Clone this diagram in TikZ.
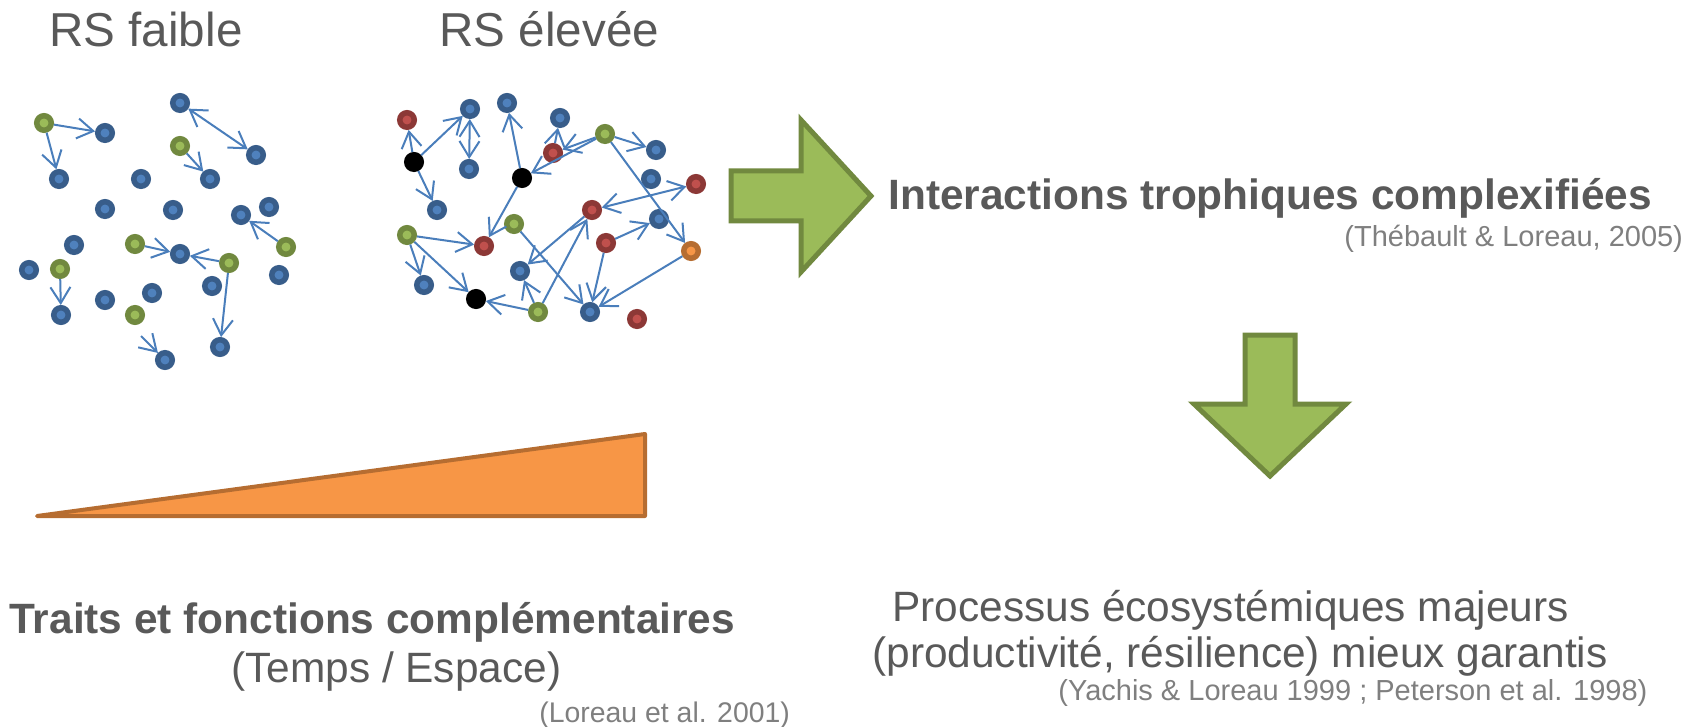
\documentclass[tikz,border=0pt]{standalone}
\usepackage{fontspec}
\setmainfont{Liberation Sans}
\usetikzlibrary{arrows.meta}

\begin{document}
\begin{tikzpicture}[x=0.5pt, y=-0.5pt]
    % Define colours
    \definecolor{textColour}{HTML}{595959}
    \definecolor{citeColour}{HTML}{7F7F7F}
    \definecolor{linkColour}{HTML}{4A7EBB}
    \definecolor{blueFill}{HTML}{4F81BD}
    \definecolor{blueBorder}{HTML}{385D8A}
    \definecolor{greenFill}{HTML}{9BBB59}
    \definecolor{greenBorder}{HTML}{71893F}
    \definecolor{redFill}{HTML}{C0504D}
    \definecolor{redBorder}{HTML}{8C3836}
    \definecolor{orangeFill}{HTML}{F79646}
    \definecolor{orangeBorder}{HTML}{B66D31}

    % Define styles
    \tikzset{
        species/.style={circle, inner sep=0pt, minimum size=7.25pt, line width=2.75pt},
        blueSp/.style={species, fill=blueFill, draw=blueBorder},
        greenSp/.style={species, fill=greenFill, draw=greenBorder},
        redSp/.style={species, fill=redFill, draw=redBorder},
        orangeSp/.style={species, fill=orangeFill, draw=orangeBorder},
        blackSp/.style={species, fill=black, draw=black},
        link/.style={draw=linkColour, line width=1pt, >={Straight Barb[length=8pt, width=10pt]}},
        bigArrow/.style={fill=greenFill, draw=greenBorder, line width=2.5pt},
        label/.style={inner sep=0pt, text=textColour, font=\fontsize{21.2}{25}\selectfont},
        title/.style={inner sep=0pt, text=textColour, font=\fontsize{23.8}{28}\selectfont},
        cite/.style={inner sep=0pt, text=citeColour, font=\fontsize{14.5}{17}\selectfont}
    }

    % Fix the picture size
    \useasboundingbox (0,0) rectangle (1702,727);

    % Titles
    \node[title, anchor=base west] (titleLow) at (49,47) {RS faible};
    \node[title, anchor=base west] (titleHigh) at (439,47) {RS élevée};

    % Draw the low richness network
    \foreach \name/\x/\y/\kind in {
        f1/44/123/greenSp, f2/105/133/blueSp, f3/59/179/blueSp, f4/180/103/blueSp,
        f5/180/146/greenSp, f6/256/155/blueSp, f7/141/179/blueSp, f8/210/179/blueSp,
        f9/105/209/blueSp, f10/173/210/blueSp, f11/241/215/blueSp, f12/269/207/blueSp,
        f13/286/247/greenSp, f14/74/245/blueSp, f15/135/244/greenSp, f16/180/254/blueSp,
        f17/229/263/greenSp, f18/29/270/blueSp, f19/60/269/greenSp, f20/279/275/blueSp,
        f21/212/286/blueSp, f22/152/293/blueSp, f23/105/300/blueSp, f24/61/315/blueSp,
        f25/135/315/greenSp, f26/220/347/blueSp, f27/165/360/blueSp}
        \node[\kind] (\name) at (\x,\y) {};
    \coordinate (fStart) at (141,336);

    \foreach \a/\b in {f1/f2, f1/f3, f5/f8, f13/f11, f15/f16, f17/f16, f17/f26, f19/f24, fStart/f27}
        \draw[link, ->] (\a) -- (\b);
    \draw[link, <->] (f4) -- (f6);

    % Draw the high richness network
    \foreach \name/\x/\y/\kind in {
        e1/407/120/redSp, e2/414/162/blackSp, e3/470/109/blueSp, e4/469/169/blueSp,
        e5/507/103/blueSp, e6/522/178/blackSp, e7/560/118/blueSp, e8/553/153/redSp,
        e9/605/134/greenSp, e10/656/150/blueSp, e11/651/179/blueSp, e12/696/184/redSp,
        e13/437/210/blueSp, e14/592/210/redSp, e15/407/235/greenSp, e16/484/246/redSp,
        e17/514/224/greenSp, e18/659/219/blueSp, e19/606/243/redSp, e20/691/251/orangeSp,
        e21/520/271/blueSp, e22/424/285/blueSp, e23/476/299/blackSp, e24/538/312/greenSp,
        e25/590/312/blueSp, e26/637/319/redSp}
        \node[\kind] (\name) at (\x,\y) {};

    \foreach \a/\b in {e2/e1, e2/e3, e2/e13, e6/e5, e8/e7, e9/e8, e9/e6, e9/e10, e9/e20,
        e6/e16, e15/e16, e15/e22, e15/e23, e24/e23, e24/e21, e24/e14, e14/e21,
        e19/e18, e19/e25, e20/e25, e17/e25}
        \draw[link, ->] (\a) -- (\b);
    \draw[link, <->] (e3) -- (e4);
    \draw[link, <->] (e12) -- (e14);

    % Draw the big arrows
    \draw[bigArrow] (731,171) -- (801,171) -- (801,120) -- (871,196) -- (801,272) -- (801,221) -- (731,221) -- cycle;
    \draw[bigArrow] (1245,335) -- (1295,335) -- (1295,404) -- (1346,404) -- (1270,476) -- (1194,404) -- (1245,404) -- cycle;

    % Draw the wedge
    \draw[fill=orangeFill, draw=orangeBorder, line width=2pt, line join=round] (37,516) -- (645,516) -- (645,434) -- cycle;

    % Texts
    \node[label, anchor=base west, font=\fontsize{21.2}{25}\selectfont\bfseries] (interText) at (888,210) {Interactions trophiques complexifiées};
    \node[cite, anchor=base west] (interCite) at (1344,247) {(Thébault \& Loreau, 2005)};

    \node[label, anchor=base west, font=\fontsize{21.2}{25}\selectfont\bfseries] (traitText) at (9,633) {Traits et fonctions complémentaires};
    \node[label, anchor=base west] (traitSub) at (231,682) {(Temps / Espace)};
    \node[cite, anchor=base west, font=\fontsize{14.2}{17}\selectfont] (traitCite) at (539,722) {(Loreau et al. 2001)};

    \node[label, anchor=base west] (procText) at (892,621) {Processus écosystémiques majeurs};
    \node[label, anchor=base west] (procSub) at (872,667) {(productivité, résilience) mieux garantis};
    \node[cite, anchor=base west] (procCite) at (1058,700) {(Yachis \& Loreau 1999 ; Peterson et al. 1998)};

\end{tikzpicture}
\end{document}
